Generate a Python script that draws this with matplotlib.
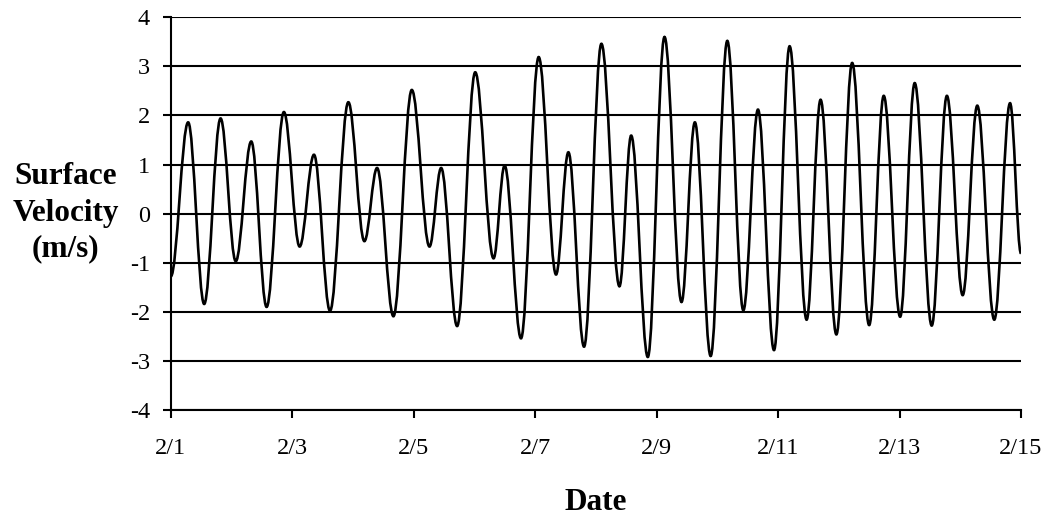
import matplotlib
matplotlib.use("Agg")
import matplotlib.pyplot as plt
from matplotlib.path import Path
from matplotlib.patches import PathPatch

plt.rcParams['font.family'] = ['Liberation Serif', 'DejaVu Serif']
plt.rcParams['axes.unicode_minus'] = False

# Turning points of the surface velocity record (days after 2/1, m/s)
days = [0.00, 0.286, 0.55, 0.82, 1.07, 1.325, 1.578, 1.863, 2.122, 2.358,
        2.622, 2.924, 3.188, 3.397, 3.666, 3.969, 4.26, 4.452, 4.715, 5.013,
        5.315, 5.497, 5.767, 6.058, 6.344, 6.547, 6.805, 7.091, 7.388, 7.581,
        7.855, 8.13, 8.41, 8.63, 8.89, 9.164, 9.428, 9.669, 9.933, 10.19,
        10.47, 10.70, 10.96, 11.22, 11.50, 11.74, 12.01, 12.25, 12.53, 12.78,
        13.04, 13.28, 13.56, 13.82, 14.00]
velocity = [-1.28, 1.86, -1.84, 1.94, -0.97, 1.47, -1.90, 2.07, -0.67, 1.20,
            -1.98, 2.27, -0.56, 0.93, -2.09, 2.52, -0.67, 0.93, -2.29, 2.88,
            -0.91, 0.98, -2.54, 3.19, -1.24, 1.25, -2.71, 3.46, -1.48, 1.59,
            -2.92, 3.60, -1.80, 1.86, -2.90, 3.52, -1.97, 2.12, -2.78, 3.41,
            -2.16, 2.32, -2.46, 3.07, -2.27, 2.40, -2.10, 2.66, -2.28, 2.40,
            -1.66, 2.20, -2.16, 2.25, -0.81]

tick_days = [0, 2, 4, 6, 8, 10, 12, 14]
tick_labels = ['2/1', '2/3', '2/5', '2/7', '2/9', '2/11', '2/13', '2/15']
y_ticks = [-4, -3, -2, -1, 0, 1, 2, 3, 4]

fig = plt.figure(figsize=(10.49, 5.17), dpi=100)
ax = fig.add_axes([0.1628, 0.2070, 0.8105, 0.7595])

# smooth tidal curve: cubic bezier between turning points (flat tangents)
k = 0.364
verts = [(days[0], velocity[0])]
codes = [Path.MOVETO]
for i in range(len(days) - 1):
    dt = days[i + 1] - days[i]
    verts += [(days[i] + k * dt, velocity[i]),
              (days[i + 1] - k * dt, velocity[i + 1]),
              (days[i + 1], velocity[i + 1])]
    codes += [Path.CURVE4] * 3
curve = PathPatch(Path(verts, codes), fill=False, edgecolor='black', linewidth=1.9,
                  transform=ax.transData, zorder=3)
ax.add_patch(curve)

for yv in y_ticks:
    ax.axhline(yv, color='black', linewidth=1.5, zorder=1)

ax.set_xlim(0, 14)
ax.set_ylim(-4, 4)
ax.set_xticks(tick_days)
ax.set_xticklabels(tick_labels)
ax.set_yticks(y_ticks)
ax.tick_params(axis='both', direction='out', length=6, width=1.5, color='black',
               labelsize=17.5)
ax.tick_params(axis='x', pad=14)
ax.tick_params(axis='y', pad=9)

for side in ['top', 'right']:
    ax.spines[side].set_visible(False)
for side in ['left', 'bottom']:
    ax.spines[side].set_linewidth(1.5)
    ax.spines[side].set_color('black')

fig.text(596 / 1049, 1 - 510 / 517, 'Date', ha='center', va='baseline',
         fontsize=22.5, fontweight='bold')
fig.text(65.5 / 1049, 1 - 213 / 517, 'Surface\nVelocity\n(m/s)', ha='center',
         va='center', fontsize=22.5, fontweight='bold', linespacing=1.32,
         multialignment='center')

fig.savefig('out.png', dpi=100)
